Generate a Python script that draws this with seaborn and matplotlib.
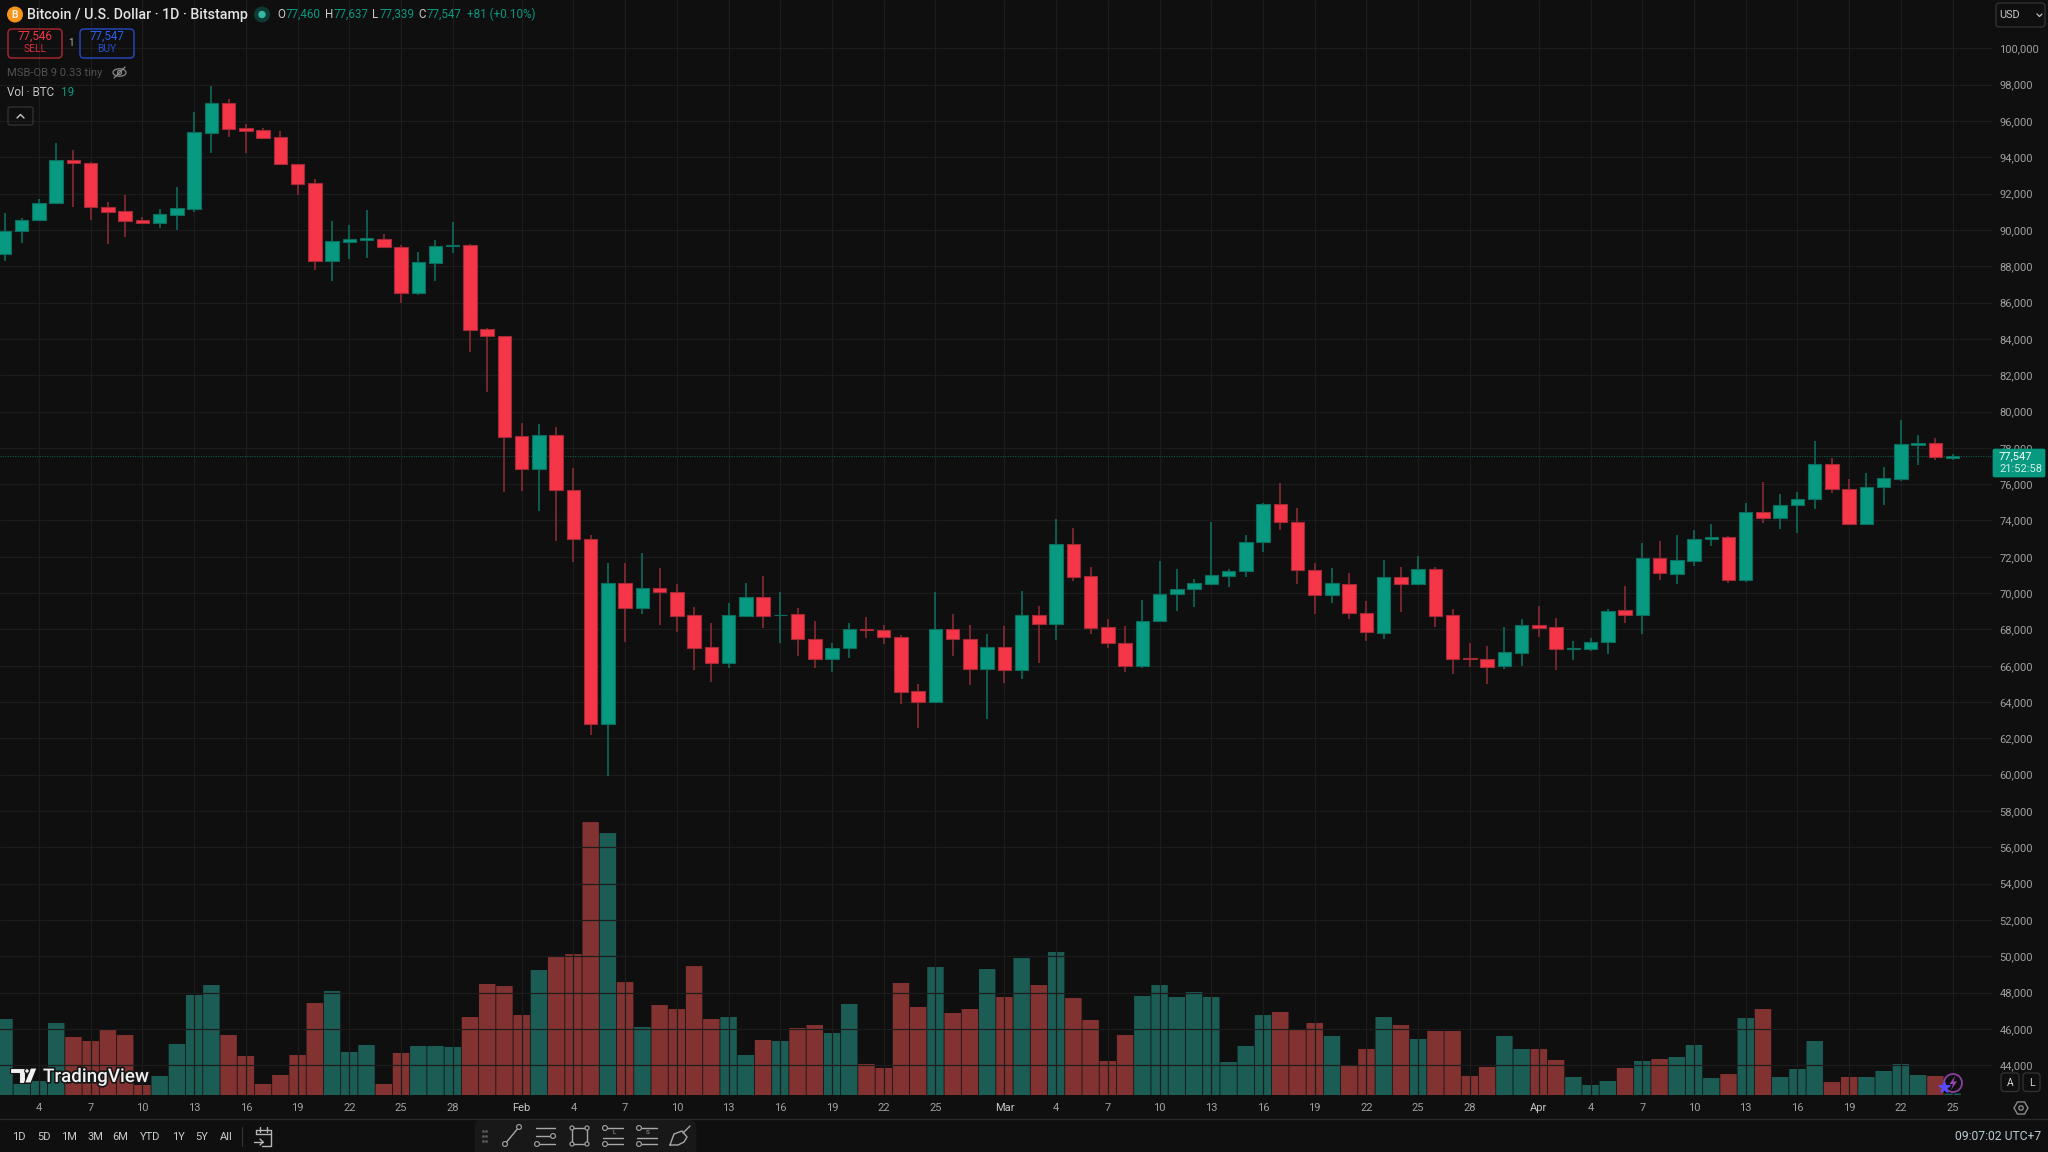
import numpy as np
import pandas as pd
import matplotlib
matplotlib.use("Agg")
import matplotlib.pyplot as plt
import matplotlib.patheffects as pe
from matplotlib.patches import Circle, FancyBboxPatch, Polygon, Ellipse, Rectangle
import seaborn as sns

# Daily BTC/USD candles, Bitstamp, 2 Jan - 25 Apr
FIRST_DAY = "2025-01-02"
opens = [88690,89920,90540,91460,93860,93700,91280,91020,90540,90360,90840,91150,95350,96970,95590,95500,95110,93610,92560,88290,
         89350,89440,89520,89080,86520,88190,89130,89180,84540,84150,78640,76850,78680,75690,73000,62780,70530,69200,70300,70080,
         68800,67020,66160,68750,69770,68770,68860,67470,66390,66960,68000,67980,67610,64620,64020,68020,67490,65840,67010,65740,
         68810,68290,72700,70940,68110,67270,65960,68440,69930,70200,70500,70940,71210,72840,74900,73930,71250,69870,70500,68900,
         67820,70880,70490,71320,68770,66400,66350,65960,66710,68240,68110,66900,66940,67280,69050,68820,71940,71030,71780,72970,
         73100,70720,74460,74160,74830,75170,77100,75720,73800,75820,76310,78180,78280,77460]
highs = [90910,90640,91720,94800,94400,93740,91530,91920,90710,91130,92360,96470,97920,97190,95810,95610,95460,93620,92820,90470,
         90270,91080,89770,89170,88760,89420,90420,89220,84620,84150,79360,79320,79150,76890,73180,71670,71630,72220,71400,70490,
         69240,68370,69430,70530,70940,70080,69200,68450,67240,68330,68670,68220,67690,64990,70060,68840,68240,67760,68200,70130,
         69270,74090,73580,71410,68570,68200,69620,71780,71340,70790,73930,71340,73210,74960,76060,74680,71630,71380,71120,69560,
         71820,71410,72020,71410,69120,67250,67080,68110,68550,69300,68640,67360,67520,69120,70370,72770,72880,73190,73490,73830,
         73170,74940,76130,75470,75560,78370,77450,76260,76610,76950,79520,78680,78550,77637]
lows = [88300,89300,90500,91420,91240,90540,89220,89630,90320,90100,90010,90980,94250,95130,94250,95020,93590,91940,87810,87200,
        88410,88470,89000,85990,86430,87200,88730,83280,81090,75560,75620,74540,72870,71710,62190,59950,67310,68860,68260,67880,
        65740,65100,65860,68710,68080,67270,66550,65860,65630,66430,67550,67180,63880,62560,63930,66510,64950,63050,65060,65280,
        66170,67410,70680,67760,66950,65650,65850,68400,68990,69250,70460,70310,70900,72290,73450,70500,68830,69430,68590,67380,
        67450,68940,70420,68110,65520,65910,65010,65800,65960,67560,65740,66310,66790,66620,68330,67760,70720,70490,71470,72570,
        70530,70590,73870,73540,73320,74610,75490,73780,73760,74860,76180,77030,77320,77339]
closes = [89960,90560,91480,93860,93660,91240,90960,90490,90360,90870,91180,95370,96970,95570,95460,95080,93630,92530,88290,89370,
          89480,89530,89040,86520,88230,89110,89170,84510,84150,78600,76850,78680,75650,72970,62780,70530,69200,70300,70060,68750,
          67000,66160,68800,69770,68750,68820,67450,66390,67000,68020,67980,67590,64570,64010,68020,67450,65840,67010,65740,68810,
          68290,72700,70900,68070,67230,65960,68460,69960,70220,70530,70970,71230,72830,74900,73890,71250,69870,70530,68880,67850,
          70880,70490,71320,68730,66370,66360,65910,66730,68240,68070,66900,66970,67300,68990,68820,71940,71080,71800,72990,73080,
          70720,74460,74160,74840,75190,77100,75710,73800,75850,76350,78200,78280,77490,77547]
volumes = [950,138,175,900,725,675,812,750,125,238,638,1250,1375,750,488,138,250,500,1150,1300,
           538,625,138,525,612,612,600,975,1388,1362,1000,1562,1725,1762,3412,3275,1412,850,1125,1075,
           1612,950,975,500,688,675,838,875,775,1138,388,338,1400,1100,1600,1025,1075,1575,1225,1712,
           1375,1788,1212,938,425,750,1238,1375,1225,1288,1225,412,612,1000,1038,812,900,738,375,575,
           975,875,700,800,800,238,350,738,575,575,438,225,125,175,338,425,450,475,625,212,
           262,962,1075,225,325,675,162,225,225,300,388,250,238,19]
price_ticks = list(range(44000, 102000, 2000))
date_tick_days = [4, 7, 10, 13, 16, 19, 22, 25, 28]
range_buttons = ["1D", "5D", "1M", "3M", "6M", "YTD", "1Y", "5Y", "All"]

W, H = 2048, 1152
PANE_R, PANE_B = 1992, 1095
GREEN, RED = "#089981", "#f53649"
BG = "#0f0f0f"
GRID = "#1c1c1c"
AXIS_TEXT = "#a0a0a0"

sns.set_theme(style="dark", rc={
    "figure.facecolor": BG, "axes.facecolor": BG, "savefig.facecolor": BG,
    "axes.edgecolor": BG, "axes.grid": True, "grid.color": GRID, "grid.linewidth": 0.9,
    "xtick.color": AXIS_TEXT, "ytick.color": AXIS_TEXT,
})
plt.rcParams["font.family"] = ["Roboto", "DejaVu Sans"]

dates = pd.date_range(FIRST_DAY, periods=len(opens), freq="D")
df = pd.DataFrame({"day": np.arange(len(opens)), "date": dates, "open": opens, "high": highs,
                   "low": lows, "close": closes, "volume": volumes})
df["rising"] = df["close"] >= df["open"]
df["body_low"] = df[["open", "close"]].min(axis=1)
df["body_span"] = (df["open"] - df["close"]).abs()

fig = plt.figure(figsize=(W / 100, H / 100), dpi=100)
rect = [0, 1 - PANE_B / H, PANE_R / W, PANE_B / H]
PX_PER_DAY = 17.24
PX_PER_USD = 0.01816
xlim = (-4.5 / PX_PER_DAY, (PANE_R - 4.5) / PX_PER_DAY)
ylim = (100000 - (PANE_B - 48.3) / PX_PER_USD, 100000 + 48.3 / PX_PER_USD)

# Volume pane shares the plot area and sits below the price grid
ax_vol = fig.add_axes(rect, zorder=1)
ax_vol.patch.set_visible(False)
for rising, fill in [(True, "#1b5c55"), (False, "#823230")]:
    part = df[df["rising"] == rising]
    sns.barplot(data=part, x="day", y="volume", native_scale=True, width=0.955, color=fill,
                saturation=1, errorbar=None, linewidth=0, snap=False, ax=ax_vol)
ax_vol.set_xlim(*xlim)
ax_vol.set_ylim(0, 13690)
ax_vol.axis("off")

ax = fig.add_axes(rect, zorder=2)
ax.patch.set_visible(False)
ax.set_axisbelow(True)

# Wicks
wick_colors = np.where(df["rising"], "#0c6f5e", "#8e2a33")
ax.vlines(df["day"], df["low"], df["high"], colors=wick_colors, linewidth=1.15, zorder=2)

# Candle bodies
for rising, fill, edge in [(True, GREEN, "#0a6e5d"), (False, RED, "#a52a36")]:
    part = df[df["rising"] == rising]
    sns.barplot(data=part, x="day", y="body_span", bottom=part["body_low"].to_numpy(), native_scale=True,
                width=0.78, color=fill, saturation=1, errorbar=None, edgecolor=edge, linewidth=0.8,
                zorder=3, ax=ax)

# Last-price line
ax.axhline(closes[-1], color="#0d5a4d", linewidth=0.8, linestyle=(0, (1, 1.2)), zorder=2.5)

ax.set_xlim(*xlim)
ax.set_ylim(*ylim)
ax.set_xlabel("")
ax.set_ylabel("")

# Date axis: month names on the first, day numbers every third day,
# dropping a day number that falls right before a month name
month_ends_next = (df["date"] + pd.Timedelta(days=1)).dt.day == 1
tick_rows = df[((df["date"].dt.day == 1) | df["date"].dt.day.isin(date_tick_days)) & ~month_ends_next]
ax.set_xticks(tick_rows["day"])
ax.set_xticklabels([d.strftime("%b") if d.day == 1 else str(d.day) for d in tick_rows["date"]], fontsize=8.0)
for lab, d in zip(ax.get_xticklabels(), tick_rows["date"]):
    if d.day == 1:
        lab.set_color("#c4c4c4")
ax.yaxis.tick_right()
ax.set_yticks(price_ticks)
ax.set_yticklabels([f"{p:,}" for p in price_ticks], fontsize=8.0, ha="left", va="center_baseline")
ax.tick_params(axis="x", length=0, pad=5.6)
ax.tick_params(axis="y", length=0, pad=5.4)
ax.grid(True, color=GRID, linewidth=0.9)
for s in ax.spines.values():
    s.set_visible(False)

# Interface furniture is laid out in pixel coordinates on a full-figure layer
ui = fig.add_axes([0, 0, 1, 1], zorder=5)
ui.set_xlim(0, W)
ui.set_ylim(H, 0)
ui.axis("off")
ui.patch.set_visible(False)


def label(x, y, s, size=8.3, color="#d1d4dc", ha="left", weight="normal", **kw):
    return ui.text(x, y, s, fontsize=size, color=color, ha=ha, va="center", weight=weight, **kw)


def box(x0, y0, x1, y1, edge, face="none", lw=1.0, r=4):
    p = FancyBboxPatch((x0 + r, y0 + r), x1 - x0 - 2 * r, y1 - y0 - 2 * r,
                       boxstyle=f"round,pad={r},rounding_size={r}", edgecolor=edge, facecolor=face, linewidth=lw)
    ui.add_patch(p)
    return p


def stroke(xs, ys, color="#9b9b9b", lw=1.0):
    ui.plot(xs, ys, color=color, linewidth=lw, solid_capstyle="round")


def node(x, y, r=2.4, color="#9b9b9b"):
    ui.add_patch(Circle((x, y), r, facecolor=BG, edgecolor=color, linewidth=0.9, zorder=6))


# Symbol header
ui.add_patch(Circle((15, 14.5), 8, facecolor="#f7931a", edgecolor="none"))
label(15, 14.5, "B", size=7.5, color="#fff1dc", ha="center", weight="bold")
label(27, 14.5, "Bitcoin / U.S. Dollar · 1D · Bitstamp", size=10.25, color="#e3e3e3", weight="medium")
ui.add_patch(Circle((262, 14.5), 8, facecolor="#0f3a34", edgecolor="none"))
ui.add_patch(Circle((262, 14.5), 3.7, facecolor="#35b8a3", edgecolor="none"))

o_h_l_c = [("O", 277, opens[-1], 285.5), ("H", 325, highs[-1], 333.5), ("L", 372, lows[-1], 380), ("C", 418.5, closes[-1], 427)]
for name, x_name, value, x_val in o_h_l_c:
    label(x_name, 14.5, name, size=8.4, color="#c9c9c9")
    label(x_val, 14.5, f"{value:,}", size=8.4, color=GREEN)
label(467, 14.5, "+81 (+0.10%)", size=8.4, color=GREEN)

# Trade buttons
box(8, 29, 62, 58, "#a2262f", lw=1.1)
label(35, 36.3, "77,546", size=8.4, color="#f23645", ha="center")
label(35, 49, "SELL", size=7.4, color="#d92c3a", ha="center")
label(71, 43, "1", size=7.0, color="#b8b8b8", ha="center")
box(80, 29, 134, 58, "#2347b5", lw=1.1)
label(107, 36.3, "77,547", size=8.4, color="#2b5ff0", ha="center")
label(107, 49, "BUY", size=7.4, color="#2450d0", ha="center")

# Indicator rows
label(7, 72.5, "MSB-OB 9 0.33 tiny", size=8.15, color="#505050")
ui.add_patch(Ellipse((119.5, 72.5), 13, 7.5, facecolor="none", edgecolor="#8a8a8a", linewidth=0.9))
ui.add_patch(Circle((119.5, 72.5), 2, facecolor="none", edgecolor="#8a8a8a", linewidth=0.9))
stroke([114, 125], [78, 67], "#8a8a8a", 0.9)
label(7, 93, "Vol · BTC", size=8.4, color="#c4c4c4")
label(61, 93, "19", size=8.4, color=GREEN)
box(8, 107, 33, 125, "#333333", lw=0.9, r=2)
stroke([17, 20.5, 24], [118, 114.5, 118], "#c8c8c8", 1.0)

# Currency selector
box(1996, 3, 2045, 27, "#333333", lw=0.9, r=3.5)
label(1999, 15, "USD", size=7.8, color="#c8c8c8")
stroke([2037, 2039.5, 2042], [14, 16.5, 14], "#c0c0c0", 0.9)

# Price tag
box(1993, 449, 2045, 477, GREEN, face=GREEN, lw=0.5, r=1.5)
label(1999, 456.5, f"{closes[-1]:,}", size=8.0, color="#ffffff")
label(1999, 468.5, "21:52:58", size=8.0, color="#cfeee8")

# TradingView mark
halo = [pe.withStroke(linewidth=2.4, foreground="#161616")]
mark = [Polygon([(10, 1068), (25, 1068), (25, 1083), (19, 1083), (19, 1073), (10, 1073)], closed=True),
        Polygon([(30.5, 1068), (37, 1068), (31, 1083), (24.5, 1083)], closed=True),
        Circle((27, 1071), 2.3)]
for shape in mark:
    shape.set(facecolor="#f2f2f2", edgecolor="#161616", linewidth=0.8)
    ui.add_patch(shape)
label(43, 1077, "TradingView", size=13.55, color="#f0f0f0", weight="medium", path_effects=halo)

# Scale buttons and settings
box(2001, 1073, 2019, 1091.5, "#333333", lw=0.9, r=3)
label(2010, 1082.5, "A", size=7.5, color="#d5d5d5", ha="center")
box(2023, 1073, 2040, 1091.5, "#333333", lw=0.9, r=3)
label(2031.5, 1082.5, "L", size=7.5, color="#d5d5d5", ha="center")
hexa = [(2021 + 7 * np.cos(a), 1108 + 7 * np.sin(a)) for a in np.deg2rad(np.arange(0, 360, 60))]
ui.add_patch(Polygon(hexa, closed=True, facecolor="none", edgecolor="#8a8a8a", linewidth=1.0))
ui.add_patch(Circle((2021, 1108), 2.2, facecolor="none", edgecolor="#8a8a8a", linewidth=1.0))

# Alert badge
ui.add_patch(Circle((1953, 1083), 9, facecolor=BG, edgecolor="#8a3fa0", linewidth=1.3))
ui.add_patch(Polygon([(1955, 1076), (1949.5, 1084), (1953, 1084), (1951, 1090), (1957, 1081.5), (1953.5, 1081.5)],
                     closed=True, facecolor="#9a45b0", edgecolor="none"))
ui.scatter([1944], [1087], marker="*", s=70, color="#5a4bff", zorder=7)

# Bottom bar
stroke([0, W], [1119, 1119], "#2a2a2a", 0.9)
for name, x in zip(range_buttons, [19, 44, 69, 95, 120, 150, 178, 202, 226]):
    label(x, 1137, name, size=8.0, color="#c7ccd0", ha="center")
stroke([242, 242], [1127, 1146], "#333333", 0.9)

# Go-to-date calendar
cal = "#b4b4b4"
stroke([256, 256, 271, 271, 262], [1134, 1130, 1130, 1146, 1146], cal, 1.0)
stroke([256, 271], [1134, 1134], cal, 1.0)
stroke([260, 260], [1127, 1132], cal, 1.0)
stroke([267, 267], [1127, 1132], cal, 1.0)
stroke([254, 263], [1142, 1142], cal, 1.0)
stroke([260, 263, 260], [1139, 1142, 1145], cal, 1.0)

box(475, 1120, 696, 1160, "#181818", face="#181818", lw=0.5, r=7)
ui.scatter([483, 486, 483, 486, 483, 486], [1131, 1131, 1136, 1136, 1141, 1141], s=1.2, color="#555555", zorder=6)
ic = "#a8a8a8"
stroke([505, 519], [1144, 1127], ic, 1.0); node(505, 1144); node(519, 1127)
for yy in [1128, 1136, 1144]:
    stroke([536, 555], [yy, yy], ic, 1.0)
node(553, 1136); node(537, 1144)
ui.add_patch(Rectangle((572, 1128), 15, 16, facecolor="none", edgecolor=ic, linewidth=1.0))
for cx, cy in [(572, 1128), (587, 1128), (572, 1144), (587, 1144)]:
    node(cx, cy, 2.0)
for x0, letter in [(603, "L"), (637, "S")]:
    stroke([x0 + 4, x0 + 20], [1128, 1128], ic, 1.0); node(x0 + 2, 1128)
    stroke([x0, x0 + 20], [1137.5, 1137.5], ic, 1.0)
    stroke([x0 + 4, x0 + 20], [1144, 1144], ic, 1.0); node(x0 + 2, 1144)
    label(x0 + 11, 1133, letter, size=4.6, color=ic, ha="center")
stroke([670, 674, 682, 687, 684, 678, 670], [1145, 1134, 1131, 1137, 1142, 1145, 1145], ic, 1.0)
stroke([683, 690], [1133, 1126], ic, 1.0)

label(2041, 1136.5, "09:07:02 UTC+7", size=8.7, color="#b8ccd4", ha="right")

fig.savefig("out.png", dpi=100)
